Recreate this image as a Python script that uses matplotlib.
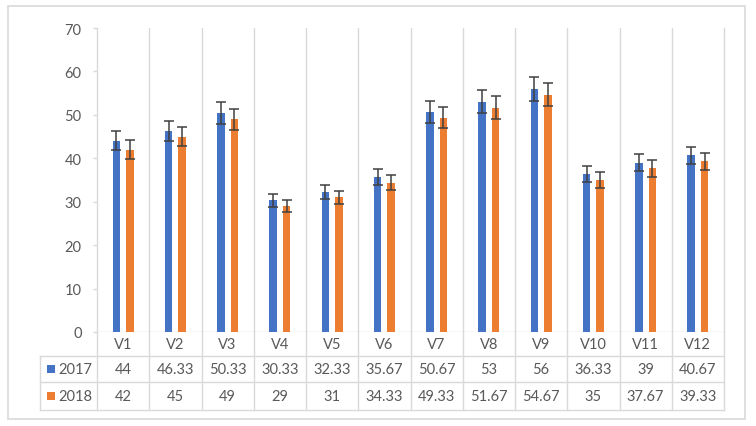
import matplotlib
matplotlib.use("Agg")
import matplotlib.pyplot as plt
import matplotlib.transforms as mtransforms
from matplotlib.patches import Rectangle
import numpy as np

categories = ["V1", "V2", "V3", "V4", "V5", "V6", "V7", "V8", "V9", "V10", "V11", "V12"]
series_names = ["2017", "2018"]
values_2017 = [44, 46.33, 50.33, 30.33, 32.33, 35.67, 50.67, 53, 56, 36.33, 39, 40.67]
values_2018 = [42, 45, 49, 29, 31, 34.33, 49.33, 51.67, 54.67, 35, 37.67, 39.33]
labels_2017 = ["44", "46.33", "50.33", "30.33", "32.33", "35.67", "50.67", "53", "56", "36.33", "39", "40.67"]
labels_2018 = ["42", "45", "49", "29", "31", "34.33", "49.33", "51.67", "54.67", "35", "37.67", "39.33"]
err_2017 = [2.2, 2.32, 2.52, 1.52, 1.62, 1.78, 2.53, 2.65, 2.8, 1.82, 1.95, 2.03]
err_2018 = [2.1, 2.25, 2.45, 1.45, 1.55, 1.72, 2.47, 2.58, 2.73, 1.75, 1.88, 1.97]
yticks = [0, 10, 20, 30, 40, 50, 60, 70]

BLUE = "#4472C4"
ORANGE = "#ED7D31"
TEXT = "#595959"
GRID = "#D9D9D9"
ERR = "#404040"

plt.rcParams["font.family"] = ["Lato", "DejaVu Sans"]
FS = 10.5

W, H = 756, 427
fig = plt.figure(figsize=(W / 100, H / 100), dpi=100)
fig.patch.set_facecolor("white")

# pixel layout
ax_left, ax_right = 97, 724
ax_top, ax_bottom = 29, 333
row_edges = [333, 357, 383, 411]
table_left = 40

ax = fig.add_axes([ax_left / W, 1 - ax_bottom / H, (ax_right - ax_left) / W, (ax_bottom - ax_top) / H])
ax.set_xlim(-0.5, len(categories) - 0.5)
ax.set_ylim(0, 70)
ax.set_facecolor("none")

x = np.arange(len(categories))
bw = 0.145
off = 0.128
ax.bar(x - off, values_2017, bw, color=BLUE, zorder=3)
ax.bar(x + off, values_2018, bw, color=ORANGE, zorder=3)
ekw = dict(fmt="none", ecolor=ERR, elinewidth=1.1, capsize=3.5, capthick=1.1, zorder=4)
ax.errorbar(x - off, values_2017, yerr=err_2017, **ekw)
ax.errorbar(x + off, values_2018, yerr=err_2018, **ekw)

for s in ["top", "right", "bottom"]:
    ax.spines[s].set_visible(False)
ax.spines["left"].set_color(GRID)
ax.spines["left"].set_linewidth(1.0)
ax.set_yticks(yticks)
ax.tick_params(axis="y", colors=GRID, labelcolor=TEXT, labelsize=FS, length=3, width=1.0, pad=8)
ax.set_xticks([])
ax.axhline(0, color=GRID, lw=1.0, zorder=2)

# vertical gridlines at category boundaries
for b in np.arange(0.5, len(categories) - 0.5, 1.0):
    ax.axvline(b, color=GRID, lw=1.0, zorder=1)

def yfrac(py):
    return (ax_bottom - py) / (ax_bottom - ax_top)

def xdat(px):
    return -0.5 + (px - ax_left) / (ax_right - ax_left) * len(categories)

trans = mtransforms.blended_transform_factory(ax.transData, ax.transAxes)
lk = dict(color=GRID, lw=1.0, transform=trans, clip_on=False, zorder=1)

# table grid
y_bot = yfrac(row_edges[-1])
for b in np.arange(-0.5, len(categories) + 0.5, 1.0):
    ax.plot([b, b], [yfrac(row_edges[0]), y_bot], **lk)
ax.plot([len(categories) - 0.5] * 2, [yfrac(ax_top), yfrac(row_edges[0])], **lk)
xl = xdat(table_left)
ax.plot([xl, xl], [yfrac(row_edges[1]), y_bot], **lk)
for e in row_edges[1:]:
    ax.plot([xl, len(categories) - 0.5], [yfrac(e), yfrac(e)], **lk)

# table text
tk = dict(ha="center", va="center", color=TEXT, fontsize=FS, transform=trans, clip_on=False)
yc = [yfrac((row_edges[i] + row_edges[i + 1]) / 2) for i in range(3)]
for i, c in enumerate(categories):
    ax.text(i, yc[0], c, **tk)
    ax.text(i, yc[1], labels_2017[i], **tk)
    ax.text(i, yc[2], labels_2018[i], **tk)

# legend keys in table
for name, col, yy in [(series_names[0], BLUE, yc[1]), (series_names[1], ORANGE, yc[2])]:
    fy = (1 - ax_bottom / H) + yy * (ax_bottom - ax_top) / H
    fig.patches.append(Rectangle((47 / W, fy - 4 / H), 8 / W, 8 / H, transform=fig.transFigure,
                                 facecolor=col, edgecolor="none"))
    fig.text(58 / W, fy, name, ha="left", va="center", color=TEXT, fontsize=FS)

# outer chart border
fig.patches.append(Rectangle((8 / W, 1 - 420 / H), (745 - 8) / W, (420 - 7) / H,
                             transform=fig.transFigure, facecolor="none", edgecolor=GRID, lw=1.2))

fig.savefig("out.png", dpi=100)
